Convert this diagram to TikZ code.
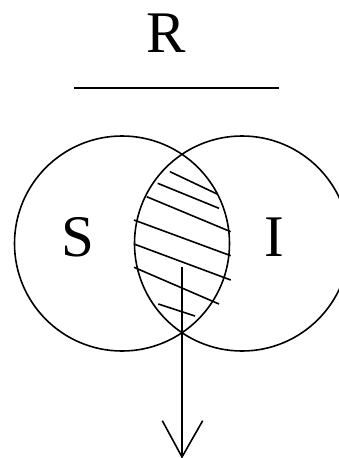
\documentclass[tikz,border=0pt]{standalone}
\usepackage{fontspec}
\setmainfont{Liberation Serif}
\begin{document}
\begin{tikzpicture}[x=1pt,y=-1pt,
  ln/.style={line width=1.6pt,black},
  lbl/.style={inner sep=0pt,font=\fontsize{59}{70}\selectfont}]
\useasboundingbox (0,0) rectangle (339,458);
\node[lbl] (R) at (166,33) {R};
\coordinate (barL) at (74,88);
\coordinate (barR) at (279,88);
\draw[ln] (barL) -- (barR);
\node[lbl] (S) at (78,237) {S};
\node[lbl] (I) at (274,237) {I};
\draw[ln] (122,243.5) circle[radius=107.5];
\draw[ln] (242,243.5) circle[radius=107.5];
% hatching
\draw[ln] (170,171.7) -- (217.7,194.3);
\draw[ln] (157.7,183.3) -- (219,208.3);
\draw[ln] (146.7,196.7) -- (230.7,231.7);
\draw[ln] (134,220) -- (230.7,255.7);
\draw[ln] (134,244) -- (230.7,280);
\draw[ln] (134,267.3) -- (219,304);
\draw[ln] (158.3,304) -- (195,316);
% arrow
\coordinate (start) at (182,266.7);
\coordinate (tip) at (182,457);
\coordinate (bl) at (162.3,420.7);
\coordinate (br) at (202.7,420.7);
\draw[ln] (start) -- (tip);
\draw[ln,line join=miter] (bl) -- (tip) -- (br);
\end{tikzpicture}
\end{document}
